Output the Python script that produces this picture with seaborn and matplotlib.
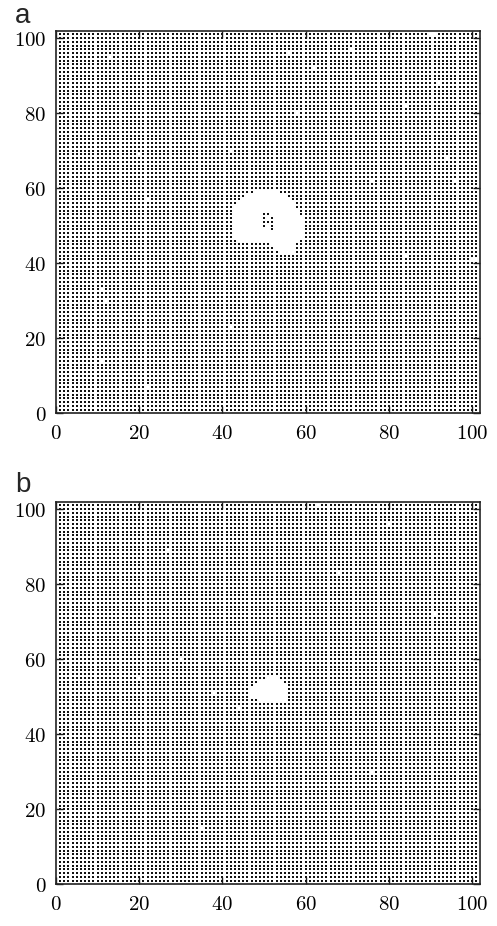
import numpy as np
import pandas as pd
import matplotlib
matplotlib.use("Agg")
import matplotlib.pyplot as plt
from matplotlib.ticker import FuncFormatter
import seaborn as sns

# ---------------- data ----------------
grid_min, grid_max = 1, 101
ticks = [0, 20, 40, 60, 80, 100]

# panel a: hole rows -> (y, x_from, x_to) of missing lattice sites
hole_a_rows_y = [59, 58, 57, 56, 55, 54, 53, 52, 51, 50, 49, 48, 47, 46, 45, 44, 43]
hole_a_rows_x0 = [48, 46, 45, 44, 43, 43, 43, 43, 43, 43, 43, 43, 43, 44, 52, 53, 54]
hole_a_rows_x1 = [53, 55, 56, 57, 57, 58, 58, 59, 59, 59, 59, 59, 59, 58, 57, 57, 57]
# sites kept inside the hole of panel a
inner_a_x = [50, 51, 50, 52, 50, 51, 52, 50, 52, 52]
inner_a_y = [53, 53, 52, 52, 51, 51, 51, 50, 50, 49]
# isolated empty sites in panel a
miss_a_x = [13, 20, 42, 22, 90, 91, 56, 71, 62, 92, 84, 58, 94, 76, 96, 11, 12, 42, 11, 22, 84, 100, 101]
miss_a_y = [95, 69, 70, 57, 101, 101, 96, 97, 92, 88, 82, 80, 68, 62, 62, 33, 30, 23, 14, 7, 42, 41, 41]

# panel b
hole_b_rows_y = [55, 54, 53, 52, 51, 50, 49]
hole_b_rows_x0 = [51, 49, 48, 47, 47, 47, 49]
hole_b_rows_x1 = [53, 54, 55, 55, 55, 55, 55]
miss_b_x = [27, 44, 38, 63, 80, 30, 91, 76, 20, 35, 68]
miss_b_y = [89, 47, 51, 101, 96, 60, 72, 30, 55, 15, 83]


def lattice(rows_y, rows_x0, rows_x1, keep_x, keep_y, miss_x, miss_y):
    gx, gy = np.meshgrid(np.arange(grid_min, grid_max + 1),
                         np.arange(grid_min, grid_max + 1))
    gx, gy = gx.ravel(), gy.ravel()
    empty = np.zeros(gx.shape, dtype=bool)
    for yy, a, b in zip(rows_y, rows_x0, rows_x1):
        empty |= (gy == yy) & (gx >= a) & (gx <= b)
    for xx, yy in zip(keep_x, keep_y):
        empty &= ~((gx == xx) & (gy == yy))
    for xx, yy in zip(miss_x, miss_y):
        empty |= (gx == xx) & (gy == yy)
    return pd.DataFrame({"x": gx[~empty], "y": gy[~empty]})


df_a = lattice(hole_a_rows_y, hole_a_rows_x0, hole_a_rows_x1,
               inner_a_x, inner_a_y, miss_a_x, miss_a_y)
df_b = lattice(hole_b_rows_y, hole_b_rows_x0, hole_b_rows_x1,
               [], [], miss_b_x, miss_b_y)

# ---------------- figure ----------------
sns.set_style("ticks")
plt.rcParams["mathtext.fontset"] = "cm"

W, H = 497, 926
fig = plt.figure(figsize=(W / 100, H / 100), dpi=100)

fmt = FuncFormatter(lambda v, p: r"$%d$" % int(round(v)))

panels = [(df_a, 413.3, "a", 23.0), (df_b, 884.3, "b", 491.7)]
for df, bottom_px, lab, lab_base in panels:
    ax = fig.add_axes([56 / W, 1 - bottom_px / H, 424 / W, 382.3 / H])
    sns.scatterplot(data=df, x="x", y="y", marker="s", s=1.8, color="#111111",
                    linewidth=0, ax=ax, legend=False)
    ax.set_xlim(0, 101.9)
    ax.set_ylim(0, 101.9)
    ax.set_xticks(ticks)
    ax.set_yticks(ticks)
    ax.xaxis.set_major_formatter(fmt)
    ax.yaxis.set_major_formatter(fmt)
    ax.tick_params(direction="in", length=5, width=1.0, top=True, right=True,
                   labelsize=15, pad=7, colors="#222222", labelcolor="black")
    ax.set_xlabel("")
    ax.set_ylabel("")
    for sp in ax.spines.values():
        sp.set_visible(True)
        sp.set_linewidth(1.2)
        sp.set_color("#222222")
    fig.text(15 / W, 1 - lab_base / H, lab, fontsize=20,
             family=["Liberation Sans", "DejaVu Sans"], va="baseline", ha="left")

fig.savefig("out.png", dpi=100)
